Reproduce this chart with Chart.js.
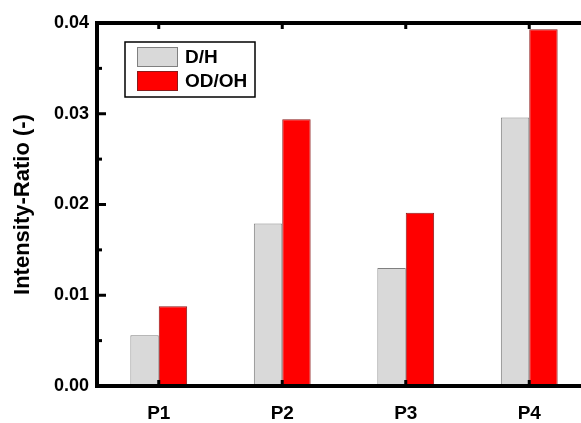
<!DOCTYPE html>
<html>
<head>
<meta charset="utf-8">
<script src="https://cdn.jsdelivr.net/npm/chart.js@4"></script>
<style>
  html, body { margin: 0; padding: 0; background: #fff; overflow: hidden; }
  #wrap { width: 600px; height: 423px; }
</style>
</head>
<body>
<div id="wrap"><canvas id="ratioChart" width="600" height="423"></canvas></div>
<script>
// Data
const categories = ['P1', 'P2', 'P3', 'P4'];
const dhValues = [0.0056, 0.0179, 0.0130, 0.0296];
const odohValues = [0.0088, 0.0294, 0.0191, 0.0393];
const yTicks = [0, 0.01, 0.02, 0.03, 0.04];

const FONT = '"Liberation Sans", Arial, sans-serif';

// Frame, inward ticks and the boxed legend
const framePlugin = {
    id: 'frame',
    afterDraw(chart) {
        const ctx = chart.ctx;
        const area = chart.chartArea;
        const x = chart.scales.x;
        const y = chart.scales.y;

        ctx.save();
        ctx.strokeStyle = '#000';
        ctx.lineWidth = 3;

        // minor y ticks
        for (let v = 0.005; v < 0.04; v += 0.01) {
            const py = y.getPixelForValue(v);
            ctx.beginPath();
            ctx.moveTo(area.left, py);
            ctx.lineTo(area.left + 5, py);
            ctx.stroke();
        }
        // major y ticks
        yTicks.forEach(v => {
            const py = y.getPixelForValue(v);
            ctx.beginPath();
            ctx.moveTo(area.left, py);
            ctx.lineTo(area.left + 9, py);
            ctx.stroke();
        });
        // category ticks, top and bottom
        categories.forEach((c, i) => {
            const px = x.getPixelForValue(i);
            ctx.beginPath();
            ctx.moveTo(px, area.bottom);
            ctx.lineTo(px, area.bottom - 6);
            ctx.moveTo(px, area.top);
            ctx.lineTo(px, area.top + 6);
            ctx.stroke();
        });

        // box
        ctx.lineWidth = 4;
        ctx.strokeRect(area.left, area.top, area.right - area.left, area.bottom - area.top);

        // legend
        ctx.lineWidth = 1.5;
        ctx.strokeRect(125, 42, 130, 55);
        chart.data.datasets.forEach((ds, i) => {
            const top = 47 + i * 24;
            ctx.fillStyle = ds.backgroundColor;
            ctx.fillRect(137, top, 41, 20);
            ctx.lineWidth = 1;
            ctx.strokeStyle = ds.borderColor;
            ctx.strokeRect(137.5, top + 0.5, 40, 19);
            ctx.fillStyle = '#000';
            ctx.font = 'bold 19px ' + FONT;
            ctx.textBaseline = 'middle';
            ctx.textAlign = 'left';
            ctx.fillText(ds.label, 185, top + 11);
        });
        ctx.restore();
    }
};

new Chart(document.getElementById('ratioChart'), {
    type: 'bar',
    data: {
        labels: categories,
        datasets: [
            {
                label: 'D/H',
                data: dhValues,
                backgroundColor: '#d9d9d9',
                borderColor: '#808080',
                borderWidth: 1
            },
            {
                label: 'OD/OH',
                data: odohValues,
                backgroundColor: '#ff0000',
                borderColor: '#8b1a1a',
                borderWidth: 1
            }
        ]
    },
    options: {
        responsive: false,
        animation: false,
        layout: { padding: { top: 23, right: 9, left: 0, bottom: 0 } },
        datasets: {
            bar: { categoryPercentage: 0.46, barPercentage: 1 }
        },
        plugins: {
            legend: { display: false },
            tooltip: { enabled: false }
        },
        scales: {
            x: {
                grid: { display: false, drawTicks: false },
                border: { display: false },
                ticks: {
                    color: '#000',
                    padding: 16,
                    font: { family: FONT, size: 19, weight: 'bold' }
                },
                afterFit(scale) { scale.height = 37; }
            },
            y: {
                min: 0,
                max: 0.04,
                afterBuildTicks(scale) { scale.ticks = yTicks.map(v => ({ value: v })); },
                grid: { display: false, drawTicks: false },
                border: { display: false },
                ticks: {
                    color: '#000',
                    padding: 8,
                    font: { family: FONT, size: 18, weight: 'bold' },
                    callback: v => v.toFixed(2)
                },
                title: {
                    display: true,
                    text: 'Intensity-Ratio (-)',
                    color: '#000',
                    padding: { top: 10, bottom: 0 },
                    font: { family: FONT, size: 22, weight: 'bold' }
                },
                afterFit(scale) { scale.width = 97; }
            }
        }
    },
    plugins: [framePlugin]
});
</script>
</body>
</html>
